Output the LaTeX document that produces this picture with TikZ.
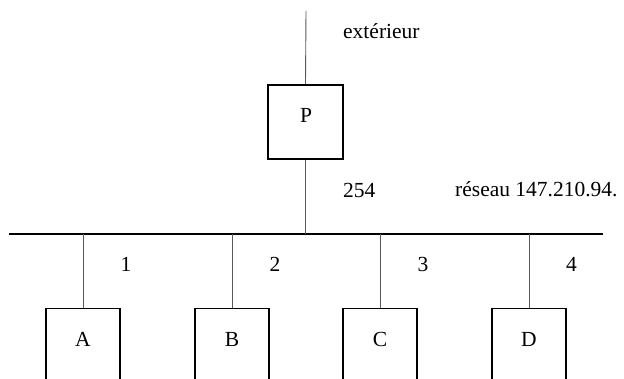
\documentclass[tikz,border=0pt]{standalone}
\usepackage{fontspec}
\setmainfont{Liberation Serif}
\begin{document}
\begin{tikzpicture}[x=1pt,y=-1pt,
  txt/.style={font=\fontsize{21.5}{26}\selectfont, inner sep=0pt},
  boxnode/.style={draw=black, line width=1.5pt, minimum width=75pt, minimum height=74pt, inner sep=0pt},
  hostbox/.style={draw=black, line width=1.5pt, minimum width=74pt, minimum height=100pt, inner sep=0pt, anchor=north},
  bus/.style={draw=black, line width=1.6pt},
  drop/.style={draw=black!65, line width=0.9pt}]
\useasboundingbox (0,0) rectangle (624,379);
\clip (0,0) rectangle (624,379);
% router
\node[boxnode] (P) at (305.5,122) {};
\node[txt, anchor=base] (Pt) at (306,123) {P};
\coordinate (ext) at (306,11);
\draw[drop] (ext) -- (P.north);
% bus
\coordinate (busL) at (9,234);
\coordinate (busR) at (603,234);
\draw[bus] (busL) -- (busR);
\draw[drop] (P.south) -- (P.south |- busL);
% hosts
\node[hostbox] (A) at (83,308) {};
\node[hostbox] (B) at (232,308) {};
\node[hostbox] (C) at (380,308) {};
\node[hostbox] (D) at (529,308) {};
\foreach \h in {A,B,C,D}{
  \draw[drop] (\h.north |- busL) -- (\h.north);
}
\node[txt, anchor=base] (At) at (83,347) {A};
\node[txt, anchor=base] (Bt) at (232,347) {B};
\node[txt, anchor=base] (Ct) at (380,347) {C};
\node[txt, anchor=base] (Dt) at (529,347) {D};
% labels
\node[txt, anchor=base west] (lext) at (343,39) {extérieur};
\node[txt, anchor=base west] (l254) at (343,198) {254};
\node[txt, anchor=base west] (lnet) at (455,197) {réseau 147.210.94.};
\node[txt, anchor=base] (l1) at (126,272) {1};
\node[txt, anchor=base] (l2) at (275,272) {2};
\node[txt, anchor=base] (l3) at (423,272) {3};
\node[txt, anchor=base] (l4) at (571.5,272) {4};
\end{tikzpicture}
\end{document}
